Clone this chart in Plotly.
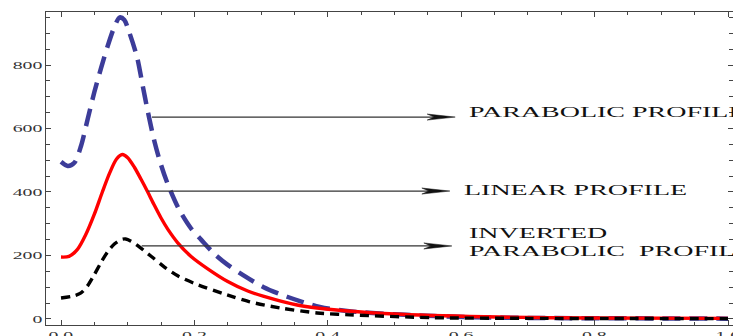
import plotly.graph_objects as go

# ---- data ----
parabolic_x = [0, 0.01, 0.02, 0.03, 0.04, 0.05, 0.06, 0.07, 0.08, 0.088, 0.095, 0.102, 0.114,
               0.122, 0.13, 0.14, 0.15, 0.16, 0.177, 0.195, 0.21, 0.23, 0.249, 0.273, 0.303,
               0.339, 0.388, 0.429, 0.508, 0.608, 0.72, 0.85, 1.0]
parabolic_y = [495, 482, 492, 545, 630, 715, 790, 860, 920, 950, 942, 905, 825,
               740, 655, 560, 485, 425, 345, 285, 250, 205, 172, 138, 101,
               70, 38, 25, 14, 6, 3, 2, 1]

linear_x = [0, 0.012, 0.025, 0.037, 0.05, 0.062, 0.073, 0.083, 0.092, 0.1, 0.11, 0.12, 0.13,
            0.14, 0.15, 0.16, 0.175, 0.195, 0.22, 0.25, 0.28, 0.303, 0.354, 0.43, 0.508,
            0.658, 0.8, 1.0]
linear_y = [195, 197, 220, 265, 330, 400, 460, 503, 518, 508, 478, 440, 400,
            358, 318, 283, 240, 197, 158, 118, 88, 72, 44, 25, 15,
            6, 3, 2]

inverted_x = [0, 0.018, 0.03, 0.04, 0.05, 0.06, 0.07, 0.08, 0.09, 0.097, 0.105, 0.115, 0.136,
              0.156, 0.175, 0.2, 0.249, 0.283, 0.328, 0.384, 0.433, 0.558, 0.7, 1.0]
inverted_y = [66, 72, 82, 105, 140, 178, 212, 236, 250, 252, 245, 231, 196,
              162, 136, 112, 76, 54, 35, 19, 13, 4, 2, 1]

x_tickvals = [0, 0.2, 0.4, 0.6, 0.8, 1.0]
x_ticktext = ["0.0", "0.2", "0.4", "0.6", "0.8", "1.0"]
y_tickvals = [0, 200, 400, 600, 800]
y_ticktext = ["0", "200", "400", "600", "800"]

labels = ["PARABOLIC PROFILE", "LINEAR PROFILE",
          "INVERTED<br>PARABOLIC\u00a0\u00a0PROFILE"]
arrow_start_x = [0.1364, 0.130, 0.121]
arrow_end_x = [0.591, 0.583, 0.586]
arrow_y = [636, 403, 230]
label_x = [0.609, 0.601, 0.609]
label_y = [649, 406, 241]

SERIF = "Liberation Serif, Times New Roman, serif"

fig = go.Figure()
fig.add_trace(go.Scatter(x=parabolic_x, y=parabolic_y, mode="lines",
                         line=dict(color="#3c3c99", width=4.5, dash="18px,9px", shape="spline", smoothing=0.8)))
fig.add_trace(go.Scatter(x=linear_x, y=linear_y, mode="lines",
                         line=dict(color="#ff0000", width=3.4, shape="spline", smoothing=0.8)))
fig.add_trace(go.Scatter(x=inverted_x, y=inverted_y, mode="lines",
                         line=dict(color="#000000", width=3.4, dash="9px,6px", shape="spline", smoothing=0.8)))

# arrow shafts and long narrow heads (head size in axis units ~ 28px long, 3px half-width)
HEAD_LEN = 0.042
HEAD_HALF = 9.5
for xs, xe, yy in zip(arrow_start_x, arrow_end_x, arrow_y):
    fig.add_shape(type="line", xref="x", yref="y", x0=xs, x1=xe - HEAD_LEN * 0.7, y0=yy, y1=yy,
                  line=dict(color="#333333", width=1.2))
    path = (f"M {xe - HEAD_LEN},{yy + HEAD_HALF} L {xe},{yy} L {xe - HEAD_LEN},{yy - HEAD_HALF} "
            f"L {xe - HEAD_LEN * 0.75},{yy} Z")
    fig.add_shape(type="path", xref="x", yref="y", path=path,
                  fillcolor="#111111", line=dict(color="#111111", width=0.5))

for t, lx, ly in zip(labels, label_x, label_y):
    fig.add_annotation(x=lx, y=ly, xref="x", yref="y", text=t, showarrow=False,
                       xanchor="left", yanchor="middle", align="left",
                       font=dict(family=SERIF, size=14, color="#111111"))

axis_common = dict(showline=True, linecolor="#444444", linewidth=1, mirror="ticks",
                   ticks="inside", ticklen=5, tickcolor="#444444", tickwidth=1,
                   showgrid=False, zeroline=False, automargin=False,
                   tickfont=dict(family=SERIF, size=11, color="#333333"))

fig.update_xaxes(range=[-0.0225, 1.0075], tickvals=x_tickvals, ticktext=x_ticktext,
                 ticklabeloverflow="allow",
                 minor=dict(dtick=0.05, ticklen=3, ticks="inside", tickcolor="#444444", showgrid=False),
                 **axis_common)
fig.update_yaxes(range=[-19, 967], tickvals=y_tickvals, ticktext=y_ticktext,
                 minor=dict(dtick=50, ticklen=4, ticks="inside", tickcolor="#444444", showgrid=False),
                 **axis_common)

fig.update_layout(width=733, height=336, margin=dict(l=46, r=0, t=12, b=11),
                  plot_bgcolor="white", paper_bgcolor="white", showlegend=False)

post = """
var gd = document.getElementById('{plot_id}');
function stretchOne(t, s, ox) {
  var done = t.getAttribute('data-sx');
  var cur = t.getAttribute('transform') || '';
  if (done !== null && done === cur) return;
  var b = t.getBBox();
  var cx = b.x + b.width * ox, cy = b.y + b.height / 2;
  var nt = cur + ' translate(' + cx + ',' + cy + ') scale(' + s + ',1) translate(' + (-cx) + ',' + (-cy) + ')';
  t.setAttribute('transform', nt);
  t.setAttribute('data-sx', nt);
}
function sx() {
  gd.querySelectorAll('.annotation-text').forEach(function(t){ stretchOne(t, 2.0, 0); });
  gd.querySelectorAll('.ytick text').forEach(function(t){ stretchOne(t, 1.8, 1); });
  gd.querySelectorAll('.xtick text').forEach(function(t){ stretchOne(t, 1.8, 0.5); });
}
sx();
gd.on('plotly_afterplot', sx);
"""

fig.write_html("out.html", post_script=post)
